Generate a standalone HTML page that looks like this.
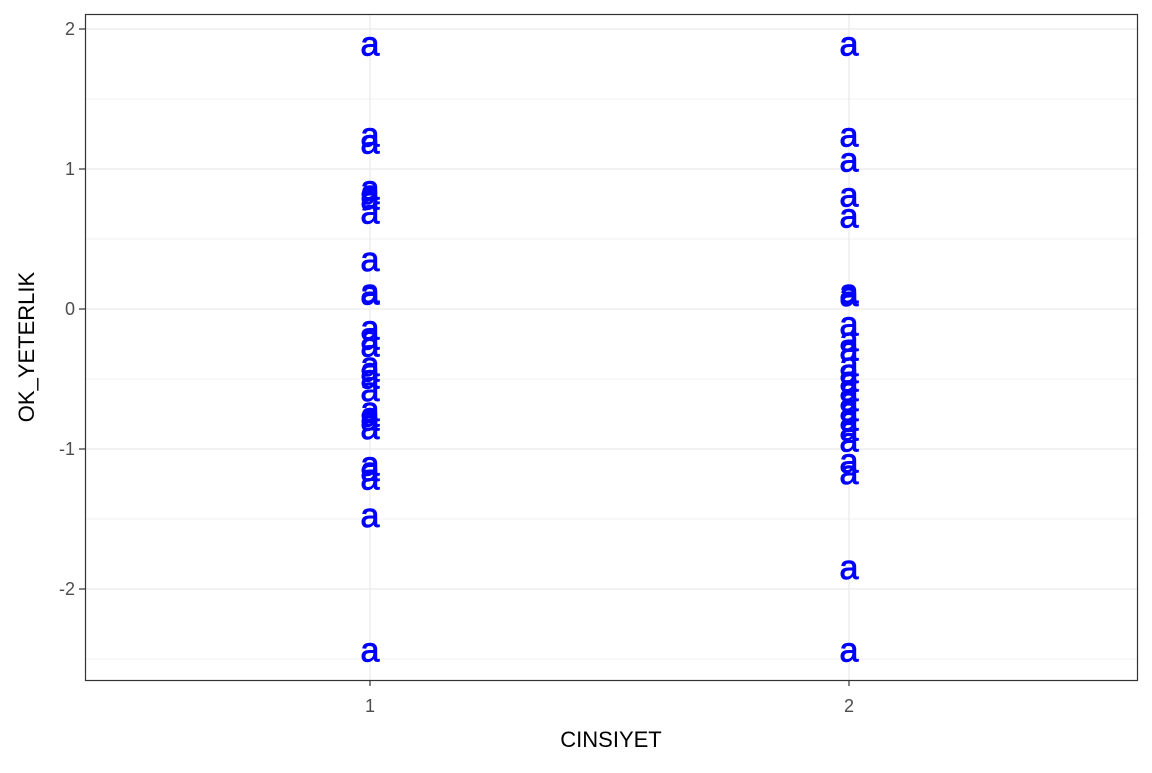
<!DOCTYPE html>
<html><head><meta charset="utf-8"><style>
body{margin:0;background:#fff;}
svg, svg text{font-family:"Liberation Sans",sans-serif;}
</style></head><body>
<svg id="chart" width="1152" height="768">
<rect x="85" y="14" width="1053" height="666" fill="#fff"/>
<g id="grid"></g>
<g id="marks" font-family="Liberation Sans, sans-serif"></g>
<rect x="85.5" y="14.5" width="1052" height="666" fill="none" stroke="#333" stroke-width="1.2"/>
<g id="axes"></g>
<text x="611" y="747" font-size="22" text-anchor="middle" fill="#000">CINSIYET</text>
<text transform="translate(34,347) rotate(-90)" font-size="22" text-anchor="middle" fill="#000">OK_YETERLIK</text>
</svg>
<script>
const categories=["1","2"];
const yTicks=[2,1,0,-1,-2];
const yTickLabels=["2","1","0","-1","-2"];
const group1=[1.89,1.24,1.19,0.86,0.83,0.79,0.69,0.35,0.12,0.11,-0.14,-0.21,-0.26,-0.40,-0.44,-0.49,-0.58,-0.72,-0.76,-0.79,-0.85,-1.11,-1.15,-1.21,-1.48,-2.44];
const group2=[1.89,1.24,1.06,0.81,0.66,0.12,0.10,-0.11,-0.22,-0.29,-0.40,-0.45,-0.51,-0.58,-0.65,-0.72,-0.79,-0.86,-0.94,-1.09,-1.17,-1.85,-2.44];
const series=[group1,group2];
const NS="http://www.w3.org/2000/svg";
const x=i=>370+i*479;
const y=v=>309-v*140;
const grid=document.getElementById('grid'),axes=document.getElementById('axes'),marks=document.getElementById('marks');
function mk(tag,attrs,parent){const e=document.createElementNS(NS,tag);for(const k in attrs)e.setAttribute(k,attrs[k]);parent.appendChild(e);return e;}
for(let v=-2.5;v<=2.01;v+=0.5){
 const l=mk('line',{x1:85,x2:1138,y1:y(v),y2:y(v),stroke:'#ebebeb','stroke-width':Number.isInteger(v)?1.3:0.7},grid);
 
 
}
categories.forEach((c,i)=>{
 const l=mk('line',{x1:x(i),x2:x(i),y1:14,y2:680,stroke:'#ebebeb','stroke-width':1.3},grid);
 
 
 const t=mk('line',{x1:x(i),x2:x(i),y1:680,y2:686,stroke:'#333','stroke-width':1.2},axes);
 
 
 const tx=mk('text',{x:x(i),y:712,'font-size':18,'text-anchor':'middle',fill:'#4d4d4d','font-family':'Liberation Sans, sans-serif'},axes);
 tx.textContent=c;
 
 
});
yTicks.forEach((v,i)=>{
 const t=mk('line',{x1:79,x2:85,y1:y(v),y2:y(v),stroke:'#333','stroke-width':1.2},axes);
 
 
 const tx=mk('text',{x:75,y:y(v)+6,'font-size':18,'text-anchor':'end',fill:'#4d4d4d','font-family':'Liberation Sans, sans-serif'},axes);
 tx.textContent=yTickLabels[i];
 
 
});
series.forEach((vals,i)=>{vals.forEach(v=>{
 const t=mk('text',{x:x(i),y:y(v)+11,'font-size':34,'text-anchor':'middle',fill:'#0000ff',stroke:'#0000ff','stroke-width':0.9,'font-family':'Liberation Sans, sans-serif'},marks);
 t.textContent='a';
 
 
});});
</script>
</body></html>
